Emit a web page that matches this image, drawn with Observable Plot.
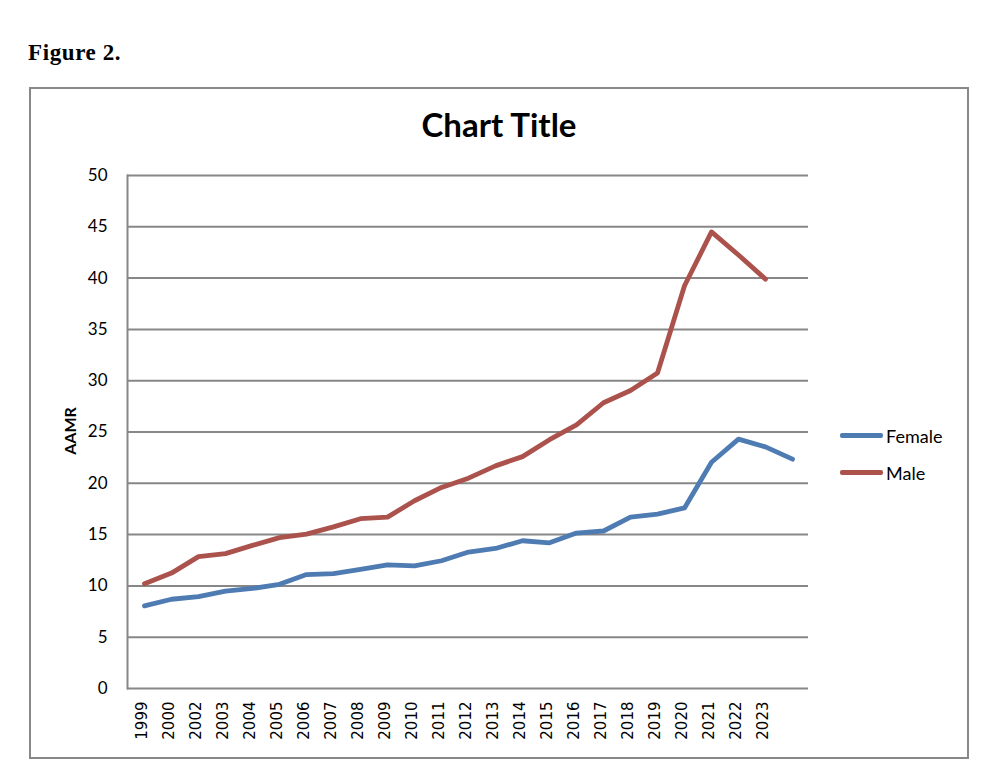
<!DOCTYPE html>
<html>
<head>
<meta charset="utf-8">
<script src="https://cdn.jsdelivr.net/npm/d3@7"></script>
<script src="https://cdn.jsdelivr.net/npm/@observablehq/plot@0.6"></script>
<style>
  html, body { margin: 0; padding: 0; background: #fff; }
  #wrap { position: relative; width: 998px; height: 780px; overflow: hidden; }
  #fig { position: absolute; left: 28px; top: 40px; font: bold 23px "Liberation Serif", "Times New Roman", serif; letter-spacing: 0.6px; color: #000; }
  #frame { position: absolute; left: 29px; top: 87px; width: 936px; height: 668px; border: 2px solid #888; box-sizing: content-box; }
  #title { position: absolute; left: 0; width: 998px; top: 104px; text-align: center; font: bold 33px Lato, sans-serif; color: #000; }
  #legend { position: absolute; left: 840px; top: 417px; font: 18px Lato, sans-serif; color: #000; }
  .li { display: flex; align-items: center; height: 37px; }
  .sw { width: 43px; height: 4.5px; border-radius: 2px; margin-right: 3px; }
  #chart { position: absolute; left: 0; top: 0; }
</style>
</head>
<body>
<div id="wrap">
  <div id="frame"></div>
  <div id="fig">Figure 2.</div>
  <div id="title">Chart Title</div>
  <div id="chart"></div>
  <div id="legend"></div>
</div>
<script>
// category labels as shown on the axis (2001 absent, last slot unlabeled)
const yearLabels = ["1999","2000","2002","2003","2004","2005","2006","2007","2008","2009","2010","2011","2012","2013","2014","2015","2016","2017","2018","2019","2020","2021","2022","2023",""];
const female = [8.05, 8.7, 8.95, 9.5, 9.75, 10.15, 11.1, 11.2, 11.6, 12.05, 11.95, 12.45, 13.3, 13.65, 14.4, 14.2, 15.15, 15.35, 16.7, 17.0, 17.6, 22.05, 24.3, 23.55, 22.35];
const male = [10.2, 11.25, 12.85, 13.15, 13.95, 14.7, 15.05, 15.75, 16.55, 16.7, 18.3, 19.6, 20.5, 21.7, 22.6, 24.25, 25.7, 27.85, 29.05, 30.75, 39.25, 44.5, 42.25, 39.9];
const seriesNames = ["Female", "Male"];
const seriesColors = ["#4f7bb3", "#ab524d"];
const yTicks = [0, 5, 10, 15, 20, 25, 30, 35, 40, 45, 50];

const rows = [];
female.forEach((v, i) => rows.push({series: "Female", idx: i, value: v}));
male.forEach((v, i) => rows.push({series: "Male", idx: i, value: v}));

const chart = Plot.plot({
  width: 998,
  height: 780,
  marginLeft: 127,
  marginRight: 190,
  marginTop: 175,
  marginBottom: 92,
  style: {fontFamily: "Lato, sans-serif", background: "transparent", overflow: "visible"},
  x: {type: "point", domain: d3.range(yearLabels.length), padding: 0.5},
  y: {domain: [0, 50]},
  color: {domain: seriesNames, range: seriesColors},
  marks: [
    Plot.gridY(yTicks, {stroke: "#878787", strokeOpacity: 1, strokeWidth: 2}),
    Plot.frame({anchor: "left", stroke: "#878787", strokeWidth: 2}),
    Plot.axisY(yTicks, {tickSize: 0, tickPadding: 20, fontSize: 17, label: null, fill: "#000"}),
    Plot.axisX(d3.range(yearLabels.length), {tickSize: 0, tickPadding: 13, tickRotate: -90, tickFormat: i => yearLabels[i], fontSize: 15, label: null, fill: "#000", dx: -2}),
    Plot.line(rows, {x: "idx", y: "value", z: "series", stroke: "series", strokeWidth: 4.8, strokeLinejoin: "round", strokeLinecap: "round"})
  ]
});
document.getElementById("chart").appendChild(chart);

const svg = d3.select(chart);
// x tick labels in a Verdana-like face
svg.selectAll('g[aria-label="x-axis tick label"] text').style("font-family", "'DejaVu Sans', sans-serif");

// y-axis title
svg.append("text")
  .attr("transform", "translate(76,431) rotate(-90)")
  .attr("text-anchor", "middle")
  .attr("font-family", "Lato, sans-serif")
  .attr("font-weight", "bold")
  .attr("font-size", 16)
  .text("AAMR");

// legend
const leg = d3.select("#legend");
seriesNames.forEach((n, i) => {
  const row = leg.append("div").attr("class", "li");
  row.append("div").attr("class", "sw").style("background", seriesColors[i]);
  row.append("span").text(n);
});
</script>
</body>
</html>
